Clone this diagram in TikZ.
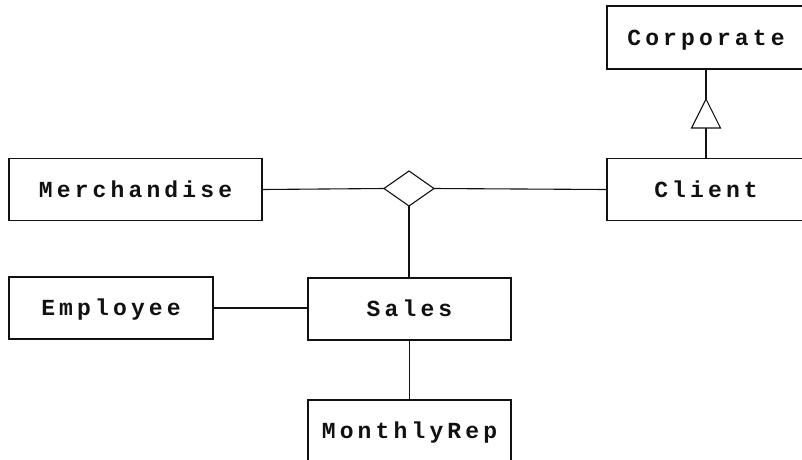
\documentclass[tikz,border=0pt]{standalone}
\usepackage{fontspec}
\newfontfamily\boxfont[LetterSpace=18]{Liberation Mono}
\usepackage{tikz}
\usetikzlibrary{positioning,shapes.geometric}
\definecolor{Ink}{HTML}{111111}
\definecolor{White}{HTML}{FFFFFF}

\begin{document}
\begin{tikzpicture}[x=1pt, y=-1pt, line width=1.1pt, color=Ink,
  every node/.style={font=\boxfont\bfseries\fontsize{23}{27}\selectfont},
  entity/.style={draw=Ink, fill=White, minimum height=62pt, text height=20pt, text depth=5pt, inner sep=0pt, outer sep=0pt, align=center},
  assoc/.style={draw=Ink, fill=White, diamond, minimum width=50pt, minimum height=35pt, inner sep=0pt, outer sep=0pt}]
\useasboundingbox (0,0) rectangle (802,459);
\clip (0,0) rectangle (802,459);
\node[entity, minimum width=198pt, minimum height=63pt] (corp) at (706,37.5) {Corporate};
\node[entity, minimum width=198pt] (client) at (706,189.5) {Client};
\node[entity, minimum width=253pt] (merch) at (135.5,189.5) {Merchandise};
\node[assoc] (sale) at (409,188.5) {};
\node[entity, minimum width=204pt] (emp) at (111,308) {Employee};
\node[entity, minimum width=203pt] (sales) at (409.5,309) {Sales};
\node[entity, minimum width=203pt] (rep) at (409.5,431) {MonthlyRep};
\coordinate (gtip) at (706,99);
\coordinate (gbase) at (706,128);
\draw (merch.east) -- (sale.west);
\draw (sale.east) -- (client.west);
\draw (sale.south) -- (sale.south |- sales.north);
\draw (emp.east) -- (emp.east -| sales.west);
\draw (sales.south) -- (rep.north);
\draw (corp.south) -- (gtip);
\draw (client.north) -- (gbase);
\draw[fill=White] (gtip) -- ([xshift=-14.5pt]gbase) -- ([xshift=14.5pt]gbase) -- cycle;
\end{tikzpicture}
\end{document}
